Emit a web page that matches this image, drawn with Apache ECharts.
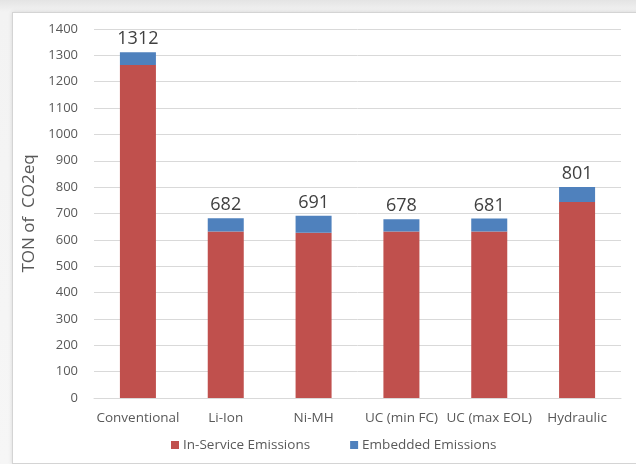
<!DOCTYPE html>
<html>
<head>
<meta charset="utf-8">
<script src="https://cdn.jsdelivr.net/npm/echarts@6/dist/echarts.min.js"></script>
<style>
  html, body { margin: 0; padding: 0; width: 636px; height: 464px; overflow: hidden;
    background: linear-gradient(#e4e4e4, #f3f3f3 12px, #f6f6f6); }
  #frame { position: absolute; left: 12px; top: 12px; width: 626px; height: 450px;
    background: #fff; border: 1px solid #d4d4d4; box-shadow: 0 0 4px rgba(0,0,0,0.12); }
  #chart { position: absolute; left: -13px; top: -13px; width: 636px; height: 464px; }
</style>
</head>
<body>
<div id="frame"><div id="chart"></div></div>
<script>
// Vehicle types compared
const categories = ['Conventional', 'Li-Ion', 'Ni-MH', 'UC (min FC)', 'UC (max EOL)', 'Hydraulic'];
// Emissions during operation (ton CO2eq)
const inService = [1263, 632, 627, 632, 632, 744];
// Emissions embedded in manufacture (ton CO2eq)
const embedded = [49, 50, 64, 46, 49, 57];
// Value axis ticks
const yTicks = [0, 100, 200, 300, 400, 500, 600, 700, 800, 900, 1000, 1100, 1200, 1300, 1400];

const font = '"Open Sans", "DejaVu Sans", sans-serif';
const chart = echarts.init(document.getElementById('chart'));
chart.setOption({
  animation: false,
  textStyle: { fontFamily: font },
  grid: { left: 94, right: 15, top: 29, bottom: 66 },
  legend: {
    left: 166, top: 433,
    itemWidth: 8, itemHeight: 8, itemGap: 40,
    icon: 'rect',
    textStyle: { color: '#595959', fontSize: 13.5, fontFamily: font, padding: [0, 0, 0, -1] },
    data: ['In-Service Emissions', 'Embedded Emissions']
  },
  xAxis: {
    type: 'category',
    data: categories,
    axisTick: { show: false },
    axisLine: { lineStyle: { color: '#d9d9d9' } },
    axisLabel: { color: '#595959', fontSize: 13.5, margin: 13, interval: 0 }
  },
  yAxis: {
    type: 'value',
    min: yTicks[0], max: yTicks[yTicks.length - 1], interval: 100,
    name: 'TON of  CO2eq',
    nameLocation: 'middle',
    nameGap: 53,
    nameTextStyle: { color: '#595959', fontSize: 17 },
    axisLine: { show: false },
    axisTick: { show: false },
    axisLabel: { color: '#595959', fontSize: 13, margin: 16, formatter: v => String(v) },
    splitLine: { lineStyle: { color: '#d9d9d9' } }
  },
  series: [
    {
      name: 'In-Service Emissions', type: 'bar', stack: 'total',
      barWidth: '41%',
      itemStyle: { color: '#C0504D' },
      data: inService
    },
    {
      name: 'Embedded Emissions', type: 'bar', stack: 'total',
      itemStyle: { color: '#4F81BD' },
      data: embedded,
      label: {
        show: true, position: 'top', distance: 4,
        color: '#404040', fontSize: 18,
        formatter: p => String(inService[p.dataIndex] + embedded[p.dataIndex])
      }
    }
  ]
});
</script>
</body>
</html>
